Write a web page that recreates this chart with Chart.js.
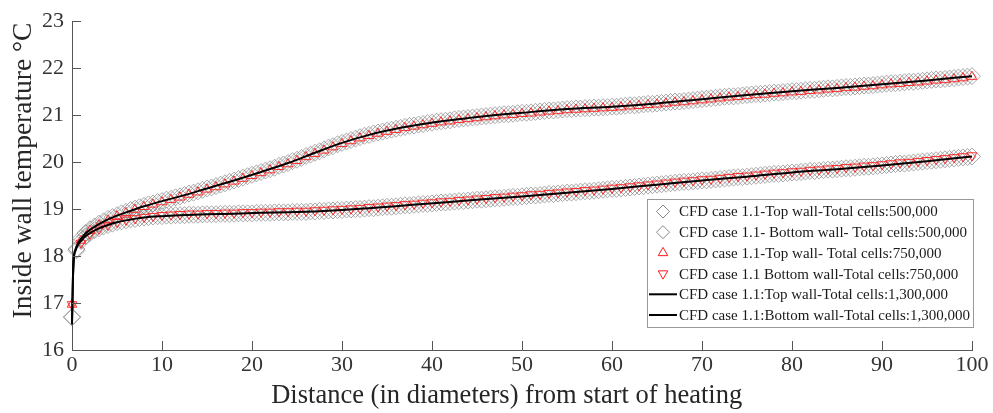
<!DOCTYPE html>
<html><head><meta charset="utf-8">
<script src="https://cdn.jsdelivr.net/npm/chart.js@4/dist/chart.umd.min.js"></script>
<style>html,body{margin:0;padding:0;background:#fff;}#wrap{width:993px;height:413px;}</style>
</head><body><div id="wrap"><canvas id="c" width="993" height="413"></canvas></div>
<script>
// ---------- DATA ----------
const seriesLabels = [
  "CFD case 1.1-Top wall-Total cells:500,000",
  "CFD case 1.1- Bottom wall- Total cells:500,000",
  "CFD case 1.1-Top wall- Total cells:750,000",
  "CFD case 1.1 Bottom wall-Total cells:750,000",
  "CFD case 1.1:Top wall-Total cells:1,300,000",
  "CFD case 1.1:Bottom wall-Total cells:1,300,000"
];
const xAxisTitle = 'Distance (in diameters) from start of heating';
const yAxisTitle = 'Inside wall temperature °C';
const xTickValues = [0,10,20,30,40,50,60,70,80,90,100];
const yTickValues = [16,17,18,19,20,21,22,23];

const distance500k = [0,0.5,1,1.5,2,2.5,3,3.5,4,4.5,5,5.5,6,6.5,7,7.5,8,8.5,9,9.5,10,10.5,11,11.5,12,12.5,13,13.5,14,14.5,15,15.5,16,16.5,17,17.5,18,18.5,19,19.5,20,20.5,21,21.5,22,22.5,23,23.5,24,24.5,25,25.5,26,26.5,27,27.5,28,28.5,29,29.5,30,30.5,31,31.5,32,32.5,33,33.5,34,34.5,35,35.5,36,36.5,37,37.5,38,38.5,39,39.5,40,40.5,41,41.5,42,42.5,43,43.5,44,44.5,45,45.5,46,46.5,47,47.5,48,48.5,49,49.5,50,50.5,51,51.5,52,52.5,53,53.5,54,54.5,55,55.5,56,56.5,57,57.5,58,58.5,59,59.5,60,60.5,61,61.5,62,62.5,63,63.5,64,64.5,65,65.5,66,66.5,67,67.5,68,68.5,69,69.5,70,70.5,71,71.5,72,72.5,73,73.5,74,74.5,75,75.5,76,76.5,77,77.5,78,78.5,79,79.5,80,80.5,81,81.5,82,82.5,83,83.5,84,84.5,85,85.5,86,86.5,87,87.5,88,88.5,89,89.5,90,90.5,91,91.5,92,92.5,93,93.5,94,94.5,95,95.5,96,96.5,97,97.5,98,98.5,99,99.5,100];
const topWall500k = [16.70,18.15,18.38,18.49,18.57,18.63,18.69,18.74,18.79,18.83,18.87,18.91,18.94,18.98,19.01,19.04,19.07,19.10,19.12,19.15,19.17,19.20,19.22,19.25,19.27,19.30,19.33,19.35,19.38,19.41,19.44,19.46,19.49,19.52,19.55,19.58,19.61,19.64,19.67,19.70,19.73,19.76,19.79,19.82,19.85,19.88,19.92,19.95,19.98,20.02,
  20.05,20.09,20.13,20.16,20.20,20.23,20.27,20.31,20.34,20.38,20.41,20.44,20.47,20.50,20.53,20.56,20.58,20.61,20.63,20.65,20.67,20.69,20.71,20.73,20.75,20.77,20.78,20.80,20.81,20.83,20.84,20.86,20.87,20.88,20.89,20.91,20.92,20.93,20.94,20.95,20.96,20.97,20.98,20.99,21.00,21.01,21.02,21.02,21.03,21.04,21.05,21.05,21.06,21.07,21.08,21.09,21.10,21.10,21.11,21.12,21.13,21.13,21.14,21.14,21.15,21.15,21.16,21.16,21.17,21.17,21.18,
  21.18,21.19,21.20,21.21,21.21,21.22,21.23,21.24,21.24,21.25,21.26,21.27,21.28,21.29,21.29,21.30,21.31,21.32,21.33,21.34,21.35,21.36,21.37,21.38,21.39,21.40,21.40,21.41,21.42,21.43,21.44,21.45,21.45,21.46,21.47,21.48,21.48,21.49,21.50,21.51,21.51,21.52,21.53,21.54,21.54,21.55,21.56,21.57,21.57,21.58,21.59,21.60,21.60,21.61,21.62,21.63,21.63,21.64,21.65,21.66,21.67,21.68,21.68,21.69,21.70,21.71,21.71,21.72,21.73,21.74,21.75,21.76,21.76,21.77,21.78,21.79,21.80,21.81,21.82,21.83];
const bottomWall500k = [16.70,18.12,18.32,18.42,18.49,18.55,18.59,18.63,18.66,18.69,18.72,18.74,18.76,18.78,18.79,18.81,18.82,18.83,18.84,18.85,18.85,18.86,18.86,18.87,18.87,18.87,18.88,18.88,18.88,18.89,18.89,18.89,18.89,18.90,18.90,18.90,18.90,18.91,18.91,18.91,18.91,18.92,18.92,18.92,18.92,18.93,18.93,18.93,18.93,18.94,18.94,18.94,18.94,18.95,18.95,18.96,18.96,18.97,18.97,18.98,18.98,18.99,18.99,19.00,19.00,19.01,19.02,19.02,19.03,19.04,19.05,19.05,19.06,19.07,19.08,19.08,19.09,19.10,19.11,19.11,19.12,19.13,19.14,19.14,19.15,19.16,19.17,19.17,19.18,19.19,19.20,19.20,19.21,19.22,19.23,19.23,19.24,19.25,19.26,19.26,19.27,19.28,19.29,19.29,19.30,19.31,19.32,19.32,19.33,19.34,19.35,19.35,19.36,19.37,19.38,19.38,19.39,19.40,19.41,19.42,19.43,19.43,19.44,19.45,19.46,19.47,19.48,19.49,19.50,19.51,19.52,19.53,19.54,19.55,19.56,19.57,19.58,19.58,19.59,19.60,19.61,19.61,19.62,19.63,19.64,19.65,19.66,19.67,19.68,19.68,19.69,19.70,19.71,19.72,19.73,19.74,19.75,19.75,19.76,19.77,19.78,19.78,19.79,19.80,19.81,19.81,19.82,19.83,19.84,19.84,19.85,19.86,19.87,19.87,19.88,19.89,19.90,19.90,19.91,19.92,19.93,19.94,19.95,19.96,19.97,19.97,19.98,19.99,20.00,20.01,20.02,20.03,20.04,20.05,20.06,20.07,20.08,20.09,20.10,20.11,20.12];

const distance750k = [0,1,2,3,4,5,6,7,8,9,10,11,12,13,14,15,16,17,18,19,20,21,22,23,24,25,26,27,28,29,30,31,32,33,34,35,36,37,38,39,40,41,42,43,44,45,46,47,48,49,50,51,52,53,54,55,56,57,58,59,60,61,62,63,64,65,66,67,68,69,70,71,72,73,74,75,76,77,78,79,80,81,82,83,84,85,86,87,88,89,90,91,92,93,94,95,96,97,98,99,100];
const topWall750k = [16.97,18.33,18.54,18.66,18.76,18.85,18.92,18.99,19.05,19.10,19.15,19.20,19.25,19.31,19.36,19.42,19.47,19.53,19.59,19.65,19.71,19.77,19.83,19.90,19.96,20.03,20.11,20.18,20.25,20.32,20.39,20.45,20.51,20.56,20.61,20.65,20.69,20.73,20.76,20.79,20.82,20.85,20.87,20.90,20.92,20.94,20.96,20.98,21.00,21.01,21.03,21.04,21.06,21.08,21.09,21.11,21.12,21.13,21.14,21.15,21.16,21.17,21.19,21.20,21.22,21.23,21.25,21.27,21.28,21.30,21.32,21.34,21.36,21.38,21.39,21.41,21.43,21.44,21.46,21.47,21.49,21.50,21.52,21.53,21.55,21.56,21.58,21.59,21.61,21.62,21.64,21.66,21.67,21.69,21.70,21.72,21.74,21.75,21.77,21.79,21.82];
const bottomWall750k = [16.97,18.28,18.47,18.58,18.66,18.72,18.77,18.80,18.83,18.85,18.87,18.88,18.89,18.90,18.90,18.91,18.91,18.92,18.92,18.93,18.93,18.94,18.94,18.95,18.95,18.96,18.96,18.97,18.98,18.99,19.00,19.01,19.02,19.04,19.05,19.07,19.08,19.10,19.11,19.13,19.14,19.16,19.17,19.19,19.20,19.22,19.23,19.25,19.26,19.28,19.29,19.31,19.32,19.34,19.35,19.37,19.38,19.40,19.41,19.43,19.45,19.46,19.48,19.50,19.52,19.54,19.56,19.58,19.60,19.61,19.63,19.64,19.66,19.68,19.70,19.71,19.73,19.75,19.77,19.78,19.80,19.81,19.83,19.84,19.86,19.87,19.89,19.90,19.92,19.93,19.95,19.97,19.99,20.00,20.02,20.04,20.06,20.08,20.10,20.12,20.14];

const distance1300k = [0,0.1,0.2,0.4,0.7,1,1.5,2,3,4,5,6,8,10,12,15,18,21,24,27,30,33,36,39,42,45,50,55,60,65,70,75,80,85,90,95,100];
const topWall1300k = [16.55,17.50,17.95,18.15,18.28,18.37,18.48,18.56,18.68,18.78,18.86,18.93,19.06,19.17,19.27,19.44,19.61,19.79,19.98,20.20,20.41,20.58,20.71,20.81,20.89,20.96,21.05,21.13,21.18,21.25,21.34,21.43,21.51,21.58,21.66,21.74,21.83];
const bottomWall1300k = [16.55,17.50,17.93,18.12,18.25,18.32,18.42,18.49,18.59,18.66,18.72,18.76,18.82,18.85,18.87,18.89,18.90,18.92,18.93,18.95,18.98,19.02,19.06,19.11,19.15,19.20,19.27,19.35,19.43,19.52,19.61,19.69,19.78,19.85,19.93,20.02,20.12];

// ---------- HELPERS ----------
const zip = (xs, ys) => xs.map((x, i) => ({x: x, y: ys[i]}));
const SERIF = "'Liberation Serif','Times New Roman',serif";
const GREY = 'rgba(120,120,120,0.8)';
const RED = '#ff1a1a';

const markerDiamond = {showLine:false, pointStyle:'rectRot', pointRadius:8.5, pointBorderWidth:0.8, borderColor:GREY, pointBorderColor:GREY, backgroundColor:'rgba(0,0,0,0)', pointBackgroundColor:'rgba(0,0,0,0)', order:3, clip:false};
const markerTri = {showLine:false, pointStyle:'triangle', pointRadius:5.5, pointBorderWidth:0.9, borderColor:RED, pointBorderColor:RED, backgroundColor:'rgba(0,0,0,0)', pointBackgroundColor:'rgba(0,0,0,0)', order:2, clip:false};
const lineStyle = {showLine:true, borderColor:'#000', borderWidth:2, pointRadius:0, cubicInterpolationMode:'monotone', fill:false, order:1, clip:false};

const datasets = [
  Object.assign({label:seriesLabels[0], data:zip(distance500k, topWall500k)}, markerDiamond),
  Object.assign({label:seriesLabels[1], data:zip(distance500k, bottomWall500k)}, markerDiamond),
  Object.assign({label:seriesLabels[2], data:zip(distance750k, topWall750k)}, markerTri),
  Object.assign({label:seriesLabels[3], data:zip(distance750k, bottomWall750k), pointRotation:180}, markerTri),
  Object.assign({label:seriesLabels[4], data:zip(distance1300k, topWall1300k)}, lineStyle),
  Object.assign({label:seriesLabels[5], data:zip(distance1300k, bottomWall1300k)}, lineStyle)
];

// inward tick marks
const inwardTicks = {
  id:'inwardTicks',
  afterDatasetsDraw(chart){
    const ctx = chart.ctx, ca = chart.chartArea;
    const xs = chart.scales.x, ys = chart.scales.y;
    ctx.save();
    ctx.strokeStyle = '#555';
    ctx.lineWidth = 1;
    ctx.beginPath();
    xTickValues.forEach(v => { const p = Math.round(xs.getPixelForValue(v)) + 0.5; ctx.moveTo(p, ca.bottom); ctx.lineTo(p, ca.bottom - 9); });
    yTickValues.forEach(v => { const p = Math.round(ys.getPixelForValue(v)) + 0.5; ctx.moveTo(ca.left, p); ctx.lineTo(ca.left + 9, p); });
    ctx.stroke();
    ctx.restore();
  }
};

// axis titles
const axisTitles = {
  id:'axisTitles',
  afterDraw(chart){
    const ctx = chart.ctx, ca = chart.chartArea;
    ctx.save();
    ctx.fillStyle = '#262626';
    ctx.textAlign = 'center';
    ctx.textBaseline = 'middle';
    ctx.font = '26.5px ' + SERIF;
    ctx.fillText(xAxisTitle, ca.left + (ca.right - ca.left) * 0.483, 396);
    ctx.translate(24, ca.top + (ca.bottom - ca.top) * 0.454);
    ctx.rotate(-Math.PI / 2);
    ctx.font = '27.5px ' + SERIF;
    ctx.fillText(yAxisTitle, 0, 0);
    ctx.restore();
  }
};

// legend drawn inside the plot area
const boxLegend = {
  id:'boxLegend',
  afterDraw(chart){
    const ctx = chart.ctx, ca = chart.chartArea;
    const w = 327, h = 129;
    const x0 = ca.right + 2 - w, y0 = 199;
    ctx.save();
    ctx.fillStyle = '#fff';
    ctx.fillRect(x0, y0, w, h);
    ctx.strokeStyle = '#999';
    ctx.lineWidth = 1;
    ctx.strokeRect(x0 + 0.5, y0 + 0.5, w - 1, h - 1);
    ctx.font = '15px ' + SERIF;
    ctx.fillStyle = '#1a1a1a';
    ctx.textBaseline = 'middle';
    const rowH = 20.7;
    const sx = x0 + 16;
    chart.data.datasets.forEach((ds, i) => {
      const cy = y0 + 12.5 + i * rowH;
      ctx.save();
      ctx.lineWidth = 1;
      if (ds.pointStyle === 'rectRot') {
        ctx.strokeStyle = '#888';
        const r = 6.5;
        ctx.beginPath(); ctx.moveTo(sx, cy - r); ctx.lineTo(sx + r, cy); ctx.lineTo(sx, cy + r); ctx.lineTo(sx - r, cy); ctx.closePath(); ctx.stroke();
      } else if (ds.pointStyle === 'triangle') {
        ctx.strokeStyle = RED;
        const r = 5.5, down = ds.pointRotation === 180 ? -1 : 1;
        ctx.beginPath();
        ctx.moveTo(sx, cy - down * r);
        ctx.lineTo(sx + r * 0.866, cy + down * r * 0.5);
        ctx.lineTo(sx - r * 0.866, cy + down * r * 0.5);
        ctx.closePath(); ctx.stroke();
      } else {
        ctx.strokeStyle = '#000'; ctx.lineWidth = 2;
        ctx.beginPath(); ctx.moveTo(x0 + 2, cy); ctx.lineTo(x0 + 30, cy); ctx.stroke();
      }
      ctx.restore();
      ctx.fillText(ds.label, x0 + 32, cy + 1);
    });
    ctx.restore();
  }
};

new Chart(document.getElementById('c'), {
  type:'scatter',
  data:{datasets:datasets},
  plugins:[inwardTicks, axisTitles, boxLegend],
  options:{
    responsive:false,
    animation:false,
    devicePixelRatio:1,
    layout:{padding:{top:17, right:21, left:0, bottom:0}},
    plugins:{legend:{display:false}, tooltip:{enabled:false}},
    scales:{
      x:{
        type:'linear', min:0, max:100,
        afterBuildTicks:(s) => { s.ticks = xTickValues.map(v => ({value:v})); },
        afterFit:(s) => { s.height = 63; },
        ticks:{font:{family:SERIF, size:22}, color:'#333', padding:2, maxRotation:0, autoSkip:false},
        grid:{display:false, drawTicks:false},
        border:{display:true, color:'#555', width:1},
        title:{display:false}
      },
      y:{
        type:'linear', min:16, max:23,
        afterBuildTicks:(s) => { s.ticks = yTickValues.map(v => ({value:v})); },
        afterFit:(s) => { s.width = 72; },
        ticks:{font:{family:SERIF, size:22}, color:'#333', padding:8, autoSkip:false},
        grid:{display:false, drawTicks:false},
        border:{display:true, color:'#555', width:1},
        title:{display:false}
      }
    }
  }
});
</script>
</body></html>
